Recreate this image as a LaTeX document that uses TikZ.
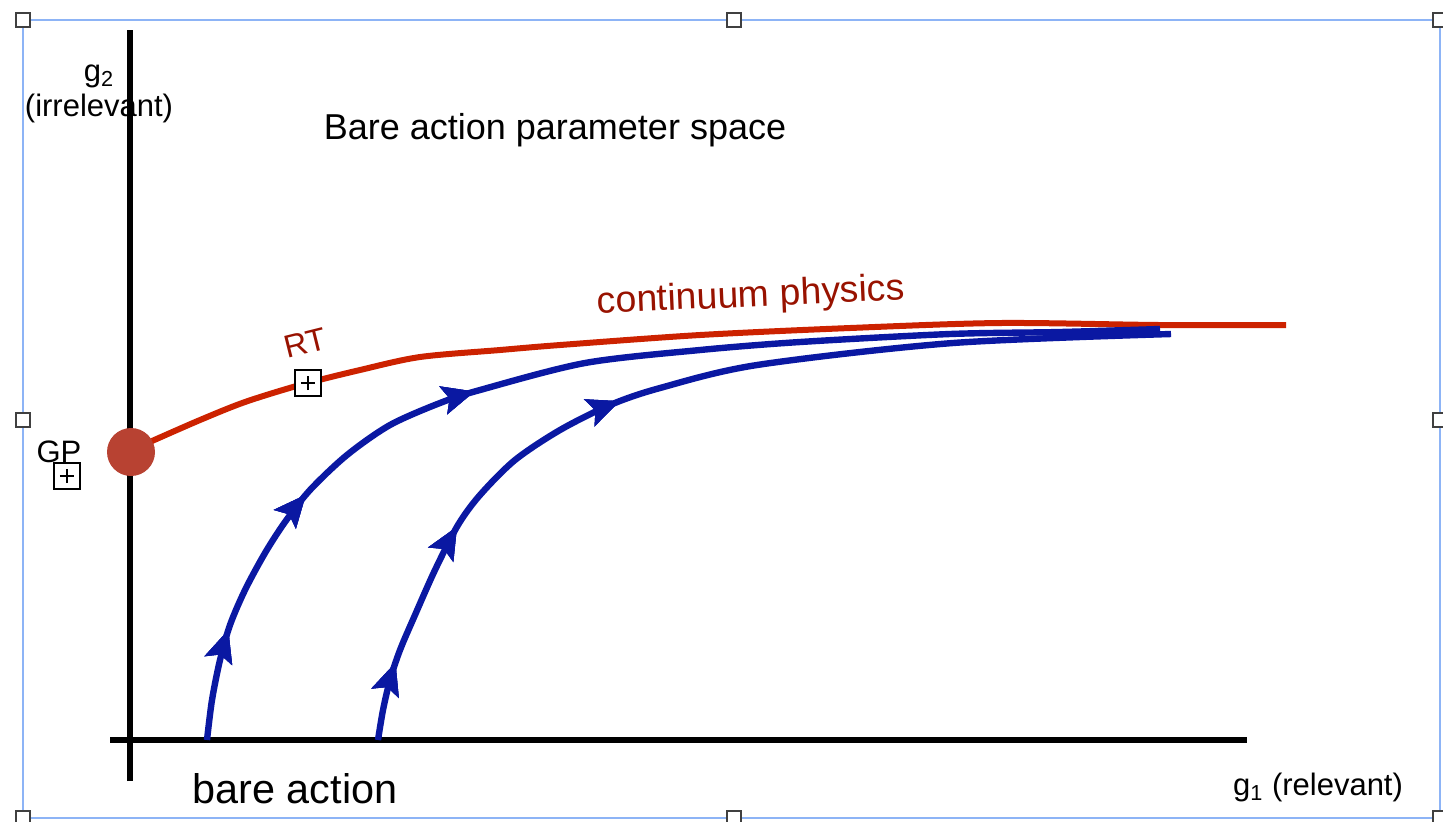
\documentclass[tikz,border=0pt]{standalone}
\usepackage{fontspec}
\setmainfont{Liberation Sans}
\usetikzlibrary{arrows.meta,decorations.markings}
\definecolor{framblue}{HTML}{8DB4F6}
\definecolor{flowblue}{HTML}{0A18A2}
\definecolor{critred}{HTML}{CC2200}
\definecolor{labelred}{HTML}{981200}
\definecolor{gpred}{HTML}{B84232}

\begin{document}
\begin{tikzpicture}[
  x=0.5pt,y=-0.5pt,
  handle/.style={draw=black!75,fill=white,line width=0.7pt,minimum size=7pt,inner sep=0pt},
  plusbox/.style={draw,line width=1pt,minimum size=13pt,inner sep=0pt,fill=white,
    path picture={\draw[line width=0.9pt]
      ([xshift=-3.6pt]path picture bounding box.center) -- ([xshift=3.6pt]path picture bounding box.center)
      ([yshift=-3.6pt]path picture bounding box.center) -- ([yshift=3.6pt]path picture bounding box.center);}},
  axis/.style={line width=3.2pt},
  flow/.style={flowblue,line width=3.2pt},
  critline/.style={critred,line width=3pt},
  flowmarks/.style={postaction={decorate},decoration={markings,
    mark=at position #1 with {\arrow{Stealth[length=16pt,width=14pt,inset=3pt]}}}},
  lbl/.style={inner sep=0pt,font=\fontsize{15.5pt}{18pt}\selectfont}
]
  \useasboundingbox (0,0) rectangle (1443,821);

  % selection frame
  \draw[framblue,line width=1pt] (23,20) rectangle (1440,818);
  \foreach \hx/\hy in {23/20,734/20,1440/20,23/420,1440/420,23/818,734/818,1440/818}
    \node[handle] at (\hx,\hy) {};

  % axes
  \coordinate (ytop) at (130,30);
  \coordinate (ybot) at (130,781);
  \coordinate (xleft) at (110,740);
  \coordinate (xright) at (1247,740);
  \draw[axis] (ybot) -- (ytop);
  \draw[axis] (xleft) -- (xright);

  % labels
  \node[lbl] (g2) at (99,76) {g\textsubscript{2}};
  \node[lbl,below=3pt] (irrel) at (g2.south) {(irrelevant)};
  \node[lbl] (g1) at (1318,787) {g\textsubscript{1} (relevant)};
  \node[inner sep=0pt,font=\fontsize{18pt}{21pt}\selectfont] (title) at (555,130) {Bare action parameter space};
  \node[inner sep=0pt,font=\fontsize{20.7pt}{24pt}\selectfont] (bare) at (295,789) {bare action};

  % continuum line
  \node[circle,fill=gpred,minimum size=24pt,inner sep=0pt] (gp) at (131,452) {};
  \draw[critline] (gp) plot[smooth,tension=0.5] coordinates
    {(152,441) (200,420) (245,402) (300,385) (360,370) (420,357) (500,350) (560,345)
     (700,335) (850,328) (1000,323) (1160,325) (1286,325)};
  \node[inner sep=0pt,font=\fontsize{18.7pt}{21pt}\selectfont,text=labelred,rotate=2.5] (cont) at (751,297) {continuum physics};
  \node[inner sep=0pt,font=\fontsize{16pt}{19pt}\selectfont,text=labelred,rotate=14] (rt) at (305,343) {RT};
  \node[plusbox] (rtbox) at (308,383) {};
  \node[inner sep=0pt,font=\fontsize{15.5pt}{18pt}\selectfont] (gplbl) at (59,452) {GP};
  \node[plusbox] (gpbox) at (67,476) {};

  % flows
  \draw[flow,flowmarks=0.097,flowmarks=0.232,flowmarks=0.405] plot[smooth,tension=0.5] coordinates
    {(207,740) (212,700) (220,660) (230,625) (245,590) (265,553) (285,522) (310,490)
     (347,455) (390,425) (440,403) (480,390) (585,363) (700,350) (800,342) (950,334) (1060,332) (1160,329)};
  \draw[flow,flowmarks=0.08,flowmarks=0.23,flowmarks=0.44] plot[smooth,tension=0.5] coordinates
    {(378,740) (383,710) (390,680) (400,650) (415,615) (435,570) (458,525) (480,495)
     (515,460) (560,430) (610,405) (660,388) (757,365) (953,343) (1171,334)};
\end{tikzpicture}
\end{document}
